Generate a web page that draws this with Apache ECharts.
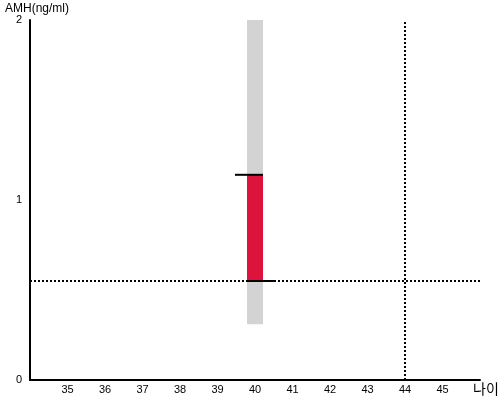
<!DOCTYPE html>
<html><head><meta charset="utf-8">
<script src="https://cdn.jsdelivr.net/npm/echarts@6/dist/echarts.min.js"></script>
<style>html,body{margin:0;padding:0;background:#fff}#c{width:500px;height:400px}</style>
</head><body><div id="c"></div>
<script>
const ages = [40];
const rangeLow = [0.31];
const rangeHigh = [2];
const valueLow = [0.55];
const valueHigh = [1.14];
const refAMH = 0.55;
const refAge = 44;
const xTicks = [35,36,37,38,39,40,41,42,43,44,45];

const FONT = 'Liberation Sans, Arial, sans-serif';
const chart = echarts.init(document.getElementById('c'));
const halfW = 8;
chart.setOption({
  animation: false,
  grid: {left: 30, right: 20, top: 20, bottom: 20, containLabel: false, outerBoundsMode: 'none'},
  xAxis: {
    type: 'value', min: 34, max: 46, interval: 1,
    name: '나이', nameLocation: 'end', nameGap: -7,
    nameTextStyle: {fontFamily: 'Noto Sans CJK KR', fontSize: 14, fontWeight: 'normal', color: '#000', verticalAlign: 'top', align: 'left', padding: [2,0,0,0]},
    axisLine: {lineStyle: {color: '#000', width: 2}},
    axisTick: {show: false},
    splitLine: {show: false},
    axisLabel: {color: '#000', fontFamily: FONT, fontSize: 11, margin: 4,
      formatter: v => xTicks.includes(v) ? String(v) : ''}
  },
  yAxis: {
    type: 'value', min: 0, max: 2, interval: 1,
    name: 'AMH(ng/ml)', nameLocation: 'end', nameGap: 9,
    nameTextStyle: {fontFamily: FONT, fontSize: 12, color: '#000', align: 'left', verticalAlign: 'middle', padding: [0,0,0,-25]},
    axisLine: {show: true, lineStyle: {color: '#000', width: 2}},
    axisTick: {show: false},
    splitLine: {show: false},
    axisLabel: {color: '#000', fontFamily: FONT, fontSize: 11, margin: 8}
  },
  series: [
    {
      type: 'custom',
      data: ages.map((a, i) => [a, rangeLow[i], rangeHigh[i], valueLow[i], valueHigh[i]]),
      renderItem: function (params, api) {
        const x = api.value(0);
        const pLo = api.coord([x, api.value(1)]);
        const pHi = api.coord([x, api.value(2)]);
        const vLo = api.coord([x, api.value(3)]);
        const vHi = api.coord([x, api.value(4)]);
        const cx = pLo[0];
        return {type: 'group', children: [
          {type: 'rect', shape: {x: cx - halfW, y: pHi[1], width: halfW*2, height: pLo[1]-pHi[1]}, style: {fill: '#d3d3d3'}},
          {type: 'rect', shape: {x: cx - halfW, y: vHi[1], width: halfW*2, height: vLo[1]-vHi[1]}, style: {fill: '#dc143c'}},
          {type: 'line', shape: {x1: cx - 20, y1: vHi[1], x2: cx + halfW, y2: vHi[1]}, style: {stroke: '#000', lineWidth: 2}},
          {type: 'line', shape: {x1: cx - halfW, y1: vLo[1], x2: cx + 20, y2: vLo[1]}, style: {stroke: '#000', lineWidth: 2}}
        ]};
      },
      z: 2
    },
    {
      type: 'line', data: [], symbol: 'none',
      markLine: {
        silent: true, symbol: 'none', label: {show: false},
        lineStyle: {color: '#000', width: 2, type: [2, 2]},
        data: [{yAxis: refAMH}, {xAxis: refAge}]
      },
      z: 3
    }
  ]
});
</script></body></html>
